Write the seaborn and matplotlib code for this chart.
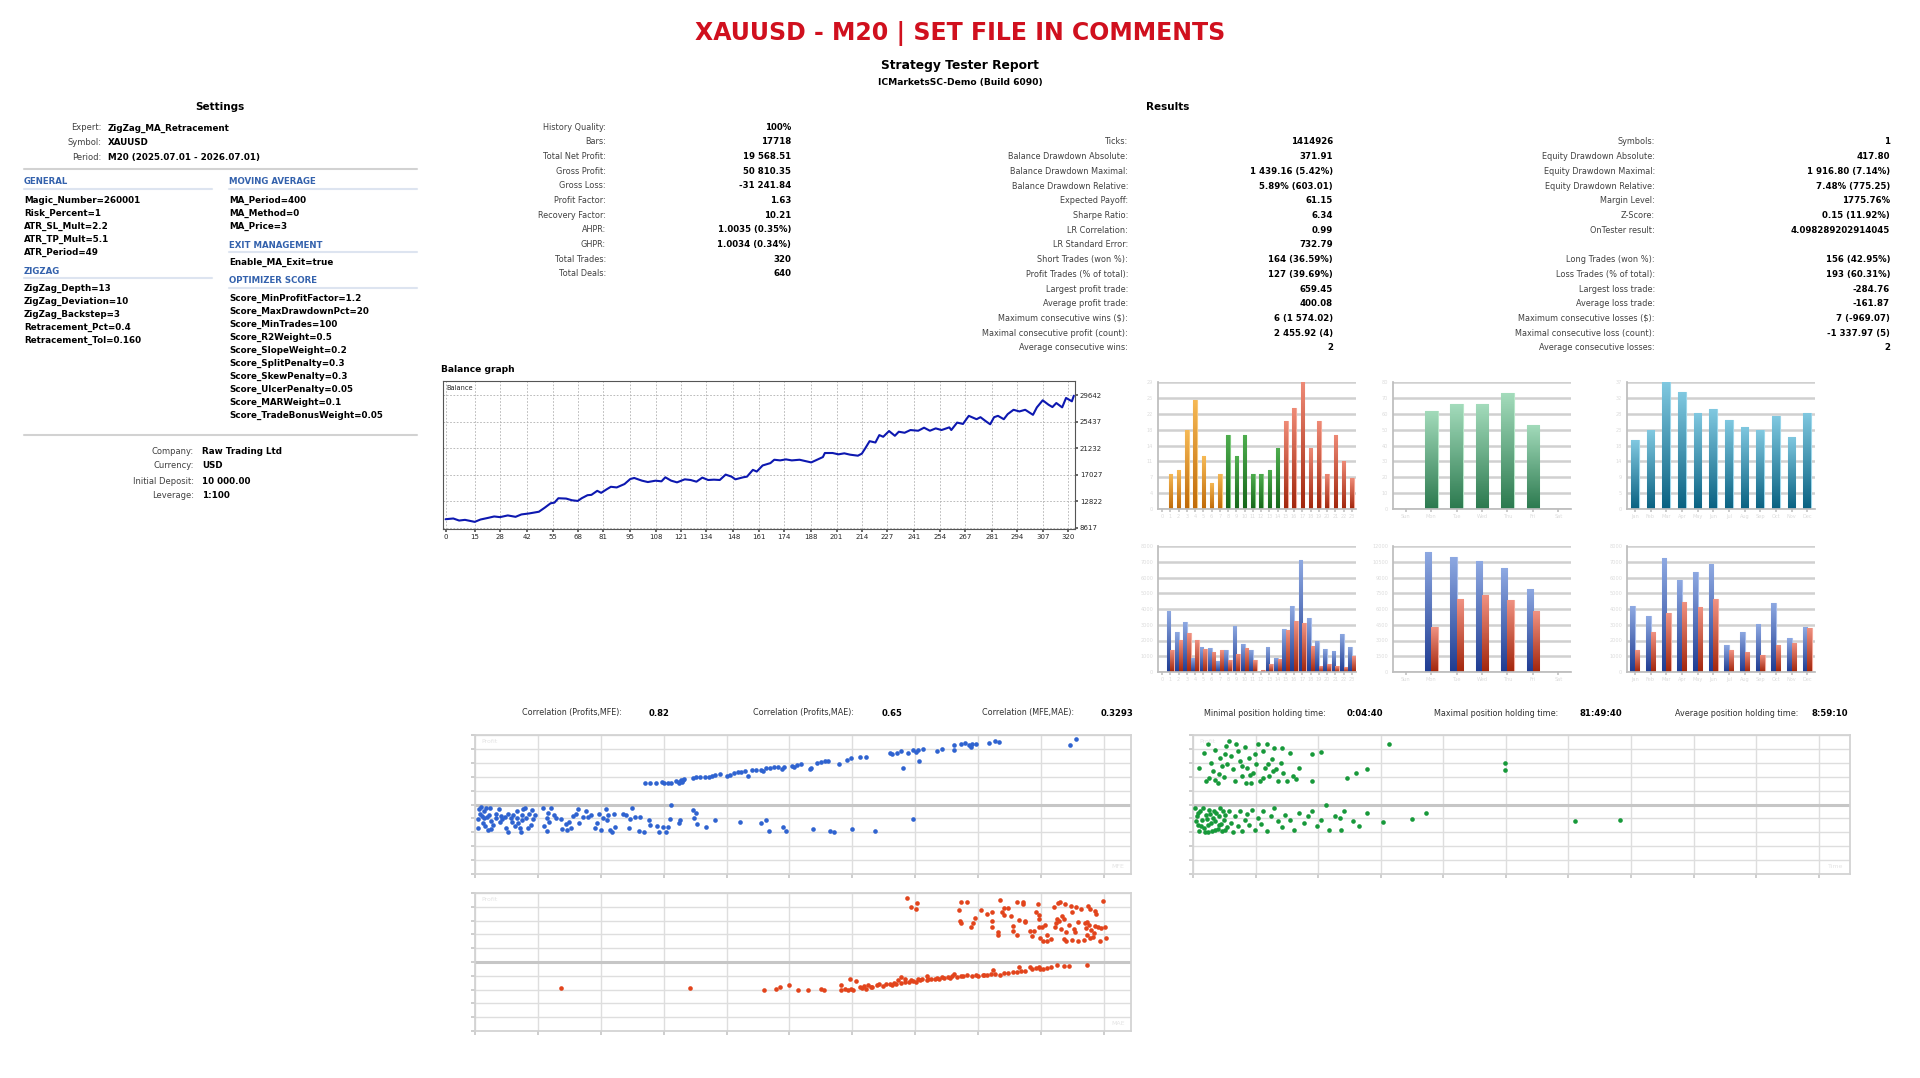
import numpy as np
import pandas as pd
import seaborn as sns
import matplotlib.pyplot as plt
from matplotlib.lines import Line2D
from matplotlib.colors import LinearSegmentedColormap
from matplotlib.ticker import FuncFormatter

# ---------------- data ----------------
title = "XAUUSD - M20 | SET FILE IN COMMENTS"

settings_head = [("Expert:", "ZigZag_MA_Retracement"),
                 ("Symbol:", "XAUUSD"),
                 ("Period:", "M20 (2025.07.01 - 2026.07.01)")]
general_inputs = ["Magic_Number=260001", "Risk_Percent=1", "ATR_SL_Mult=2.2",
                  "ATR_TP_Mult=5.1", "ATR_Period=49"]
zigzag_inputs = ["ZigZag_Depth=13", "ZigZag_Deviation=10", "ZigZag_Backstep=3",
                 "Retracement_Pct=0.4", "Retracement_Tol=0.160"]
ma_inputs = ["MA_Period=400", "MA_Method=0", "MA_Price=3"]
exit_inputs = ["Enable_MA_Exit=true"]
score_inputs = ["Score_MinProfitFactor=1.2", "Score_MaxDrawdownPct=20", "Score_MinTrades=100",
                "Score_R2Weight=0.5", "Score_SlopeWeight=0.2", "Score_SplitPenalty=0.3",
                "Score_SkewPenalty=0.3", "Score_UlcerPenalty=0.05", "Score_MARWeight=0.1",
                "Score_TradeBonusWeight=0.05"]
account_info = [("Company:", "Raw Trading Ltd"), ("Currency:", "USD"),
                ("Initial Deposit:", "10 000.00"), ("Leverage:", "1:100")]

results_col1 = [("History Quality:", "100%"), ("Bars:", "17718"),
                ("Total Net Profit:", "19 568.51"), ("Gross Profit:", "50 810.35"),
                ("Gross Loss:", "-31 241.84"), ("Profit Factor:", "1.63"),
                ("Recovery Factor:", "10.21"), ("AHPR:", "1.0035 (0.35%)"),
                ("GHPR:", "1.0034 (0.34%)"), ("Total Trades:", "320"), ("Total Deals:", "640")]
results_col2 = [("Ticks:", "1414926"), ("Balance Drawdown Absolute:", "371.91"),
                ("Balance Drawdown Maximal:", "1 439.16 (5.42%)"),
                ("Balance Drawdown Relative:", "5.89% (603.01)"),
                ("Expected Payoff:", "61.15"), ("Sharpe Ratio:", "6.34"),
                ("LR Correlation:", "0.99"), ("LR Standard Error:", "732.79"),
                ("Short Trades (won %):", "164 (36.59%)"),
                ("Profit Trades (% of total):", "127 (39.69%)"),
                ("Largest profit trade:", "659.45"), ("Average profit trade:", "400.08"),
                ("Maximum consecutive wins ($):", "6 (1 574.02)"),
                ("Maximal consecutive profit (count):", "2 455.92 (4)"),
                ("Average consecutive wins:", "2")]
results_col3 = [("Symbols:", "1"), ("Equity Drawdown Absolute:", "417.80"),
                ("Equity Drawdown Maximal:", "1 916.80 (7.14%)"),
                ("Equity Drawdown Relative:", "7.48% (775.25)"),
                ("Margin Level:", "1775.76%"), ("Z-Score:", "0.15 (11.92%)"),
                ("OnTester result:", "4.098289202914045"), ("", ""),
                ("Long Trades (won %):", "156 (42.95%)"),
                ("Loss Trades (% of total):", "193 (60.31%)"),
                ("Largest loss trade:", "-284.76"), ("Average loss trade:", "-161.87"),
                ("Maximum consecutive losses ($):", "7 (-969.07)"),
                ("Maximal consecutive loss (count):", "-1 337.97 (5)"),
                ("Average consecutive losses:", "2")]

stats_row = [("Correlation (Profits,MFE):", "0.82"), ("Correlation (Profits,MAE):", "0.65"),
             ("Correlation (MFE,MAE):", "0.3293"), ("Minimal position holding time:", "0:04:40"),
             ("Maximal position holding time:", "81:49:40"),
             ("Average position holding time:", "8:59:10")]

# balance curve (trade number, balance)
trade_no = [0, 4, 7, 10, 15, 18, 22, 25, 28, 32, 36, 39, 43, 48, 51, 54, 56, 58, 62, 65,
            68, 70, 73, 75, 78, 80, 83, 85, 88, 92, 95, 97, 101, 104, 108, 111, 113, 116, 119, 123,
            126, 129, 132, 135, 138, 141, 144, 147, 149, 153, 155, 158, 160, 163, 167, 169, 172, 175, 178, 182,
            185, 188, 191, 194, 195, 199, 202, 205, 208, 212, 214, 216, 218, 221, 223, 225, 228, 231, 233, 236,
            239, 243, 246, 249, 252, 255, 259, 260, 263, 266, 269, 273, 275, 278, 280, 282, 284, 287, 289, 292,
            295, 298, 302, 304, 307, 310, 312, 314, 317, 319, 322, 323]
balance = [10000, 10115, 9790, 9900, 9580, 9955, 10220, 10436, 10330, 10600, 10380, 10757, 10917, 11185, 11827, 12522, 12630, 13325, 13270, 13004,
           12897, 13325, 13806, 13860, 14500, 14180, 14770, 15140, 15036, 15572, 16375, 16535, 16107, 15890, 16107, 16000, 16640, 16107, 15840, 16320,
           16214, 15947, 16590, 16214, 16267, 16214, 17070, 16750, 16320, 16640, 16750, 17820, 17550, 18515, 18890, 19424, 19320, 19480, 19320, 19424,
           19210, 19000, 19424, 19850, 20490, 20490, 20280, 20440, 20226, 20066, 20387, 21350, 22366, 22152, 23330, 23062, 23970, 23220, 23860, 23700,
           24130, 24020, 24500, 24020, 24390, 24130, 24555, 24130, 25310, 25095, 26380, 25845, 26165, 25470, 25040, 26165, 26380, 25845, 26650, 27340,
           27075, 27340, 26540, 27720, 28840, 28140, 27770, 28410, 27720, 29215, 28680, 29569]
bal_yticks = [8617, 12822, 17027, 21232, 25437, 29642]
bal_xticks = [0, 15, 28, 42, 55, 68, 81, 95, 108, 121, 134, 148, 161, 174, 188, 201,
              214, 227, 241, 254, 267, 281, 294, 307, 320]

# trade counts per entry hour / weekday / month
hours = list(range(24))
hour_session = ["Asia"] * 8 + ["Europe"] * 7 + ["America"] * 9
hour_trades = [0, 8, 9, 18, 25, 12, 6, 8, 17, 12, 17, 8, 8, 9, 14, 20, 23, 29, 14, 20, 8, 17, 11, 7]
weekdays = ["Sun", "Mon", "Tue", "Wed", "Thu", "Fri", "Sat"]
weekday_trades = [0, 62, 66, 66, 73, 53, 0]
months = ["Jan", "Feb", "Mar", "Apr", "May", "Jun", "Jul", "Aug", "Sep", "Oct", "Nov", "Dec"]
month_trades = [20, 23, 37, 34, 28, 29, 26, 24, 23, 27, 21, 28]

# profit / loss sums per hour, weekday, month
hour_profit = [0, 3900, 2510, 3160, 880, 1590, 1550, 670, 1420, 2930, 1780, 1420, 0, 1590, 920,
               2720, 4170, 7140, 3430, 1970, 1490, 1340, 2430, 1590]
hour_loss = [0, 1420, 2010, 2470, 2050, 1470, 1280, 1380, 750, 1170, 1530, 750, 100, 500, 800,
             2640, 3220, 3100, 1630, 380, 500, 380, 290, 1010]
weekday_profit = [0, 11440, 10980, 10570, 9880, 7930, 0]
weekday_loss = [0, 4270, 6920, 7340, 6860, 5800, 0]
month_profit = [4180, 3530, 7220, 5850, 6350, 6850, 1710, 2570, 3030, 4400, 2130, 2840]
month_loss = [1380, 2510, 3740, 4470, 4150, 4630, 1380, 1290, 1110, 1730, 1860, 2800]

# profit vs MFE
mfe_win = [271, 279, 288, 297, 301, 307, 312, 319, 324, 327, 331, 333, 324, 329, 347, 351, 358, 365, 372, 377,
           382, 389, 401, 406, 411, 418, 423, 430, 434, 440, 447, 454, 458, 463, 469, 475, 482, 488, 492, 504,
           507, 512, 519, 532, 534, 543, 550, 557, 562, 579, 591, 598, 612, 621, 660, 663, 671, 677, 680, 689,
           696, 701, 705, 706, 712, 735, 742, 762, 762, 773, 779, 785, 788, 790, 797, 817, 826, 833, 946, 956]
mfe_win_profit = [212, 215, 215, 228, 218, 215, 218, 235, 228, 242, 245, 252, 218, 225, 265, 276, 276, 272, 282, 289,
                  299, 309, 286, 302, 316, 329, 326, 339, 292, 346, 349, 349, 339, 366, 370, 373, 373, 356, 376, 390,
                  373, 400, 407, 353, 370, 423, 433, 437, 437, 410, 444, 464, 480, 480, 521, 504, 517, 538, 370, 521,
                  544, 531, 551, 440, 554, 538, 561, 544, 595, 612, 615, 598, 581, 605, 608, 622, 638, 632, 598, 655]
mfe_loss = [4, 5, 7, 8, 9, 11, 12, 14, 15, 16, 18, 19, 21, 23, 24, 25, 26, 29, 33, 34,
            38, 40, 41, 43, 47, 50, 52, 53, 57, 59, 60, 64, 66, 67, 68, 71, 73, 74, 75, 77,
            79, 81, 84, 86, 89, 91, 93, 95, 108, 110, 114, 115, 116, 118, 121, 125, 129, 136, 139, 144,
            146, 149, 153, 156, 160, 163, 166, 171, 177, 180, 185, 190, 194, 197, 201, 204, 208, 210, 212, 214,
            218, 221, 223, 235, 240, 245, 247, 249, 255, 260, 263, 269, 276, 279, 290, 293, 299, 303, 307, 310,
            312, 324, 326, 347, 348, 351, 353, 367, 382, 422, 454, 463, 468, 490, 494, 538, 564, 571, 600, 636, 697]
mfe_loss_profit = [-144, -235, -50, -94, -27, -118, -185, -67, -141, -218, -40, -128, -252, -101, -34, -168, -242, -202, -134, -94,
                   -50, -175, -118, -151, -128, -235, -94, -276, -141, -175, -101, -218, -134, -67, -185, -235, -276, -108, -161, -50,
                   -34, -134, -235, -94, -202, -60, -151, -101, -40, -215, -269, -134, -84, -178, -34, -108, -141, -151, -242, -195,
                   -252, -175, -235, -118, -94, -50, -185, -128, -67, -128, -101, -235, -185, -94, -252, -134, -50, -161, -108, -252,
                   -282, -94, -228, -94, -101, -235, -151, -34, -128, -262, -128, -280, -161, -202, -218, -276, -228, -276, -228, -151,
                   -10, -185, -161, -60, -134, -84, -195, -228, -161, -175, -185, -161, -262, -228, -262, -242, -262, -276, -242, -262, -144]

# profit vs MAE
mae_win = [687, 694, 701, 702, 769, 773, 783, 771, 773, 788, 792, 795, 805, 814, 822, 822, 822, 831, 831, 834,
           838, 841, 841, 848, 853, 855, 856, 862, 862, 865, 871, 872, 874, 875, 882, 886, 889, 892, 895, 896,
           896, 897, 899, 901, 903, 906, 910, 910, 916, 920, 922, 923, 925, 927, 929, 930, 932, 934, 936, 937,
           938, 940, 940, 944, 947, 949, 952, 954, 956, 959, 964, 968, 970, 971, 973, 975, 976, 978, 978, 979,
           982, 984, 985, 986, 988, 990, 993, 995, 999, 1002, 1003, 973, 958, 949]
mae_win_profit = [648, 561, 538, 598, 531, 605, 605, 420, 396, 353, 396, 444, 528, 487, 511, 420, 353, 309, 276, 628,
                  511, 477, 544, 544, 464, 363, 319, 276, 605, 430, 612, 588, 420, 410, 319, 262, 319, 511, 588, 437,
                  477, 353, 242, 353, 208, 376, 269, 218, 235, 554, 353, 396, 437, 598, 420, 612, 336, 470, 437, 235,
                  588, 208, 302, 376, 571, 228, 336, 302, 554, 218, 538, 228, 393, 343, 276, 571, 376, 538, 242, 329,
                  252, 296, 370, 521, 487, 353, 218, 343, 622, 353, 242, 410, 403, 504]
mae_loss = [137, 342, 459, 478, 485, 499, 514, 530, 550, 555, 582, 582, 588, 593, 596, 598, 601, 605, 612, 615,
            618, 622, 625, 629, 632, 639, 642, 649, 653, 660, 663, 666, 670, 673, 677, 677, 684, 684, 690, 694,
            697, 701, 704, 708, 711, 718, 719, 721, 725, 732, 735, 738, 742, 745, 752, 755, 759, 762, 766, 773,
            776, 783, 790, 797, 800, 807, 810, 814, 821, 824, 827, 834, 841, 848, 855, 862, 865, 868, 875, 882,
            886, 892, 896, 899, 903, 910, 916, 925, 937, 944, 973]
mae_loss_profit = [-262, -259, -284, -269, -249, -235, -279, -283, -269, -283, -235, -282, -276, -282, -168, -276, -282, -195, -252, -262,
                   -245, -269, -235, -252, -252, -235, -228, -245, -222, -228, -235, -218, -228, -185, -151, -212, -202, -168, -202, -185,
                   -192, -202, -168, -185, -175, -185, -141, -168, -175, -168, -161, -168, -151, -161, -151, -161, -144, -118, -151, -141,
                   -141, -134, -141, -134, -141, -134, -128, -128, -118, -84, -118, -128, -108, -108, -101, -101, -47, -94, -94, -50,
                   -67, -60, -47, -74, -67, -60, -50, -34, -40, -40, -27]

# profit vs holding time (hours)
hold_win = [2.1, 2.4, 2.9, 3.5, 3.8, 4.2, 4.7, 5.2, 5.5, 5.9, 6.4, 6.9, 7.3, 7.6, 8.1, 8.7, 9.0, 9.4, 9.9, 10.4,
            10.8, 11.1, 11.6, 12.1, 12.5, 12.8, 13.4, 13.9, 14.2, 14.6, 15.1, 15.6, 16.0, 16.3, 16.8, 17.3, 18.0, 18.6, 19.1, 19.8,
            20.3, 22.9, 22.9, 24.6, 29.5, 31.2, 33.3, 37.6, 59.8, 59.8, 1.2, 3.1, 4.9, 6.6, 8.3, 10.1, 11.8, 13.5, 15.3, 17.0,
            9.4, 6.2, 4.3, 10.9, 14.4]
hold_win_profit = [522, 236, 613, 421, 337, 546, 219, 472, 388, 276, 590, 640, 489, 354, 236, 539, 438, 286, 580, 371,
                   472, 219, 320, 404, 607, 236, 539, 371, 613, 286, 455, 573, 354, 236, 421, 320, 236, 522, 286, 253,
                   371, 506, 236, 532, 263, 320, 361, 607, 421, 347, 371, 270, 310, 404, 607, 219, 506, 270, 337, 573,
                   388, 512, 243, 297, 411]
hold_loss = [0.3, 0.7, 0.9, 1.2, 1.4, 1.7, 2.1, 2.4, 2.8, 3.1, 3.5, 3.8, 4.2, 4.5, 4.9, 5.2, 5.5, 5.9, 6.2, 6.6,
             6.9, 7.3, 7.6, 8.1, 8.7, 9.0, 9.4, 9.9, 10.4, 10.8, 11.3, 11.8, 12.5, 13.0, 13.5, 14.2, 14.9, 15.6, 16.3, 17.0,
             17.7, 18.6, 19.4, 20.3, 21.2, 22.0, 22.9, 23.8, 24.6, 25.5, 26.0, 27.2, 28.1, 28.4, 29.0, 30.7, 31.9, 33.3, 36.4, 42.0,
             44.6, 73.2, 81.8, 0.5, 1.0, 1.6, 1.9, 2.3, 2.6, 2.9, 3.3, 3.6, 4.0, 4.3, 4.7, 5.0, 5.4, 5.7, 6.1]
hold_loss_profit = [-34, -118, -202, -270, -67, -152, -236, -101, -280, -51, -185, -135, -253, -84, -209, -34, -270, -152, -101, -229,
                    -61, -185, -276, -118, -219, -67, -263, -152, -94, -202, -51, -253, -135, -195, -67, -270, -118, -34, -169, -229,
                    -101, -152, -253, -84, -185, -118, -67, -219, -152, -7, -253, -118, -135, -253, -67, -169, -219, -84, -175, -142,
                    -84, -162, -158, -169, -84, -219, -40, -276, -142, -209, -94, -270, -61, -169, -243, -118, -195, -67, -253]

# ---------------- figure ----------------
W, H = 1920, 1078
sns.set_theme(style="white")
plt.rcParams['font.family'] = ['DejaVu Sans']

fig = plt.figure(figsize=(W / 100, H / 100), dpi=100)
fig.patch.set_facecolor('white')


def add_ax(left, top, right, bottom):
    return fig.add_axes([left / W, 1 - bottom / H, (right - left) / W, (bottom - top) / H])


def put(x, y, s, size=6.2, bold=False, color='black', ha='left'):
    fig.text(x / W, 1 - y / H, s, fontsize=size, fontweight='bold' if bold else 'normal',
             color=color, ha=ha, va='center')


def hline(x0, x1, y, color='#d2d2d2', lw=1.5):
    fig.add_artist(Line2D([x0 / W, x1 / W], [1 - y / H, 1 - y / H], color=color, lw=lw,
                          transform=fig.transFigure))


LABEL = '#404040'
SECTION = '#3462ad'

# header
put(960, 33, title, 17, True, '#d0101e', 'center')
put(960, 65, "Strategy Tester Report", 8.8, True, 'black', 'center')
put(960, 82, "ICMarketsSC-Demo (Build 6090)", 6.6, True, 'black', 'center')

# settings block
put(220, 107, "Settings", 7.5, True, ha='center')
for i, (lab, val) in enumerate(settings_head):
    put(101, 128 + 14.6 * i, lab, 6.0, color=LABEL, ha='right')
    put(108, 128 + 14.6 * i, val, 6.3, True)
hline(24, 417, 169)

put(24, 182, "GENERAL", 6.2, True, SECTION)
hline(24, 212, 189, '#dde4f0', 1.5)
for i, s in enumerate(general_inputs):
    put(24, 200 + 13 * i, s, 6.3, True)
put(24, 271, "ZIGZAG", 6.2, True, SECTION)
hline(24, 212, 278, '#dde4f0', 1.5)
for i, s in enumerate(zigzag_inputs):
    put(24, 288 + 13 * i, s, 6.3, True)

put(229, 182, "MOVING AVERAGE", 6.2, True, SECTION)
hline(229, 417, 189, '#dde4f0', 1.5)
for i, s in enumerate(ma_inputs):
    put(229, 200 + 13 * i, s, 6.3, True)
put(229, 245, "EXIT MANAGEMENT", 6.2, True, SECTION)
hline(229, 417, 252, '#dde4f0', 1.5)
for i, s in enumerate(exit_inputs):
    put(229, 262 + 13 * i, s, 6.3, True)
put(229, 281, "OPTIMIZER SCORE", 6.2, True, SECTION)
hline(229, 417, 288, '#dde4f0', 1.5)
for i, s in enumerate(score_inputs):
    put(229, 298 + 13.1 * i, s, 6.3, True)
hline(24, 417, 435)

for i, (lab, val) in enumerate(account_info):
    put(194, 451 + 15 * i, lab, 6.0, color=LABEL, ha='right')
    put(202, 451 + 15 * i, val, 6.3, True)

# results block
put(1168, 107, "Results", 7.5, True, ha='center')
for col, x_lab, x_val, y0 in [(results_col1, 606, 791, 127), (results_col2, 1128, 1333, 142),
                              (results_col3, 1655, 1890, 142)]:
    for i, (lab, val) in enumerate(col):
        if not lab:
            continue
        put(x_lab, y0 + 14.7 * i, lab, 5.9, color=LABEL, ha='right')
        put(x_val, y0 + 14.7 * i, val, 6.2, True, ha='right')

# balance graph
put(441, 369, "Balance graph", 6.6, True)
ax = add_ax(443, 381, 1075, 529)
sns.lineplot(x=trade_no, y=balance, color='#0d18b0', lw=1.5, ax=ax)
ax.set_xlim(-1.3, 323.6)
ax.set_ylim(8450, 31900)
ax.set_xticks(bal_xticks)
ax.set_yticks(bal_yticks)
ax.yaxis.tick_right()
ax.grid(True, ls=(0, (2, 2)), color='#b0b0b0', lw=0.6)
ax.tick_params(labelsize=5, length=2, pad=1.5, right=True, bottom=True, left=False, color='#555555')
for sp in ax.spines.values():
    sp.set_color('#555555')
    sp.set_linewidth(0.8)
ax.text(0.006, 0.975, "Balance", transform=ax.transAxes, fontsize=4.8, va='top')


# bar charts
def gradient_bars(ax, container, dark, light, edge):
    cmap = LinearSegmentedColormap.from_list('grad', [dark, light])
    for bar in container:
        x0, y0 = bar.get_x(), bar.get_y()
        w, h = bar.get_width(), bar.get_height()
        bar.set_edgecolor(edge)
        bar.set_linewidth(0.8)
        if h <= 0:
            bar.set_visible(False)
            continue
        img = ax.imshow(np.linspace(0, 1, 64).reshape(-1, 1), cmap=cmap, origin='lower',
                        extent=[x0, x0 + w, y0, y0 + h], aspect='auto', zorder=bar.get_zorder() + 0.1)
        img.set_clip_path(bar)


def style_bar_ax(ax, ymax, labels):
    ax.set_xlim(-0.5, len(labels) - 0.5)
    ax.set_ylim(0, ymax)
    ax.set_yticks(np.linspace(0, ymax, 9))
    ax.set_xticks(range(len(labels)))
    ax.set_xticklabels(labels)
    ax.yaxis.set_major_formatter(FuncFormatter(lambda v, p: f'{v:.0f}'))
    ax.yaxis.grid(True, color='#d0d0d0', lw=1.8)
    ax.xaxis.grid(False)
    ax.set_axisbelow(True)
    ax.set_xlabel('')
    ax.set_ylabel('')
    ax.tick_params(labelsize=3.6, labelcolor='#dcdcdc', length=2.5, color='#c4c4c4',
                   bottom=True, left=False, pad=1)
    sns.despine(ax=ax, top=True, right=True)
    ax.spines['left'].set_color('#bdbdbd')
    ax.spines['bottom'].set_color('#bdbdbd')


top_y, top_b = 382, 509
low_y, low_b = 546, 672
cols = [(1158, 1356), (1393, 1571), (1627, 1815)]

session_colors = {"Asia": ('#c06a08', '#f6b955', '#f8c878'),
                  "Europe": ('#16681a', '#4fae4f', '#7cc87c'),
                  "America": ('#a2260c', '#ee8a76', '#f4a898')}
sessions = ["Asia", "Europe", "America"]

ax = add_ax(cols[0][0], top_y, cols[0][1], top_b)
sns.barplot(x=hours, y=hour_trades, hue=hour_session, hue_order=sessions,
            palette=[session_colors[s][0] for s in sessions], dodge=False, width=0.45,
            legend=False, ax=ax)
for cont, s in zip(ax.containers, sessions):
    gradient_bars(ax, cont, *session_colors[s])
style_bar_ax(ax, 29, [str(h) for h in hours])

ax = add_ax(cols[1][0], top_y, cols[1][1], top_b)
sns.barplot(x=weekdays, y=weekday_trades, order=weekdays, color='#2f7d52', width=0.5, ax=ax)
gradient_bars(ax, ax.containers[0], '#2c7a4f', '#a3dbbb', '#b6e6c8')
style_bar_ax(ax, 80, weekdays)

ax = add_ax(cols[2][0], top_y, cols[2][1], top_b)
sns.barplot(x=months, y=month_trades, order=months, color='#0b6685', width=0.5, ax=ax)
gradient_bars(ax, ax.containers[0], '#0a6282', '#80c8e0', '#9ad6ea')
style_bar_ax(ax, 37, months)

pl_specs = [(hours, hour_profit, hour_loss, 8000, 0.9, [str(h) for h in hours]),
            (weekdays, weekday_profit, weekday_loss, 12000, 0.5, weekdays),
            (months, month_profit, month_loss, 8000, 0.56, months)]
for (x0, x1), (cats, prof, loss, ymax, wd, labels) in zip(cols, pl_specs):
    ax = add_ax(x0, low_y, x1, low_b)
    df = pd.DataFrame({'slot': [str(c) for c in cats] * 2,
                       'kind': ['Profit'] * len(cats) + ['Loss'] * len(cats),
                       'value': prof + loss})
    sns.barplot(data=df, x='slot', y='value', hue='kind', order=[str(c) for c in cats],
                hue_order=['Profit', 'Loss'], palette=['#2b4ea8', '#b8341a'],
                width=wd, legend=False, ax=ax)
    gradient_bars(ax, ax.containers[0], '#1f3c92', '#8ea9e2', '#a8bdea')
    gradient_bars(ax, ax.containers[1], '#a3260c', '#f09282', '#f4aa9c')
    style_bar_ax(ax, ymax, labels)

# statistics row above scatter plots
stat_pos = [(622, 649), (854, 882), (1074, 1101), (1326, 1347), (1558, 1580), (1798, 1811)]
for (lab, val), (xl, xv) in zip(stats_row, stat_pos):
    put(xl, 713, lab, 5.8, color='#303030', ha='right')
    put(xv, 713, val, 6.1, True)


def scatter_panel(ax, xs, ys, color, xmax, xstep, xname):
    sns.scatterplot(x=xs, y=ys, color=color, s=11, linewidth=0, ax=ax, zorder=3)
    ax.set_xlim(0, xmax)
    ax.set_ylim(-700, 700)
    ax.set_xticks(np.arange(0, xmax, xstep))
    ax.set_yticks(np.arange(-700, 701, 140))
    ax.grid(True, color='#dedede', lw=1.0)
    ax.axhline(0, color='#c6c6c6', lw=2.2, zorder=1)
    ax.set_axisbelow(True)
    ax.tick_params(labelleft=False, labelbottom=False, left=True, bottom=True,
                   length=3, color='#c8c8c8')
    for sp in ax.spines.values():
        sp.set_color('#d2d2d2')
    ax.text(0.01, 0.97, "Profit", transform=ax.transAxes, fontsize=4.5, color='#e4e4e4', va='top')
    ax.text(0.99, 0.04, xname, transform=ax.transAxes, fontsize=4.5, color='#e4e4e4', ha='right')


ax = add_ax(475, 735, 1131, 874)
scatter_panel(ax, mfe_win + mfe_loss, mfe_win_profit + mfe_loss_profit, '#2f63d0', 1043, 100, "MFE")

ax = add_ax(475, 893, 1131, 1031)
scatter_panel(ax, mae_win + mae_loss, mae_win_profit + mae_loss_profit, '#e2441c', 1043, 100, "MAE")

ax = add_ax(1193, 735, 1850, 874)
scatter_panel(ax, hold_win + hold_loss, hold_win_profit + hold_loss_profit, '#17993a', 126, 12, "Time")

fig.savefig("out.png", dpi=100)
